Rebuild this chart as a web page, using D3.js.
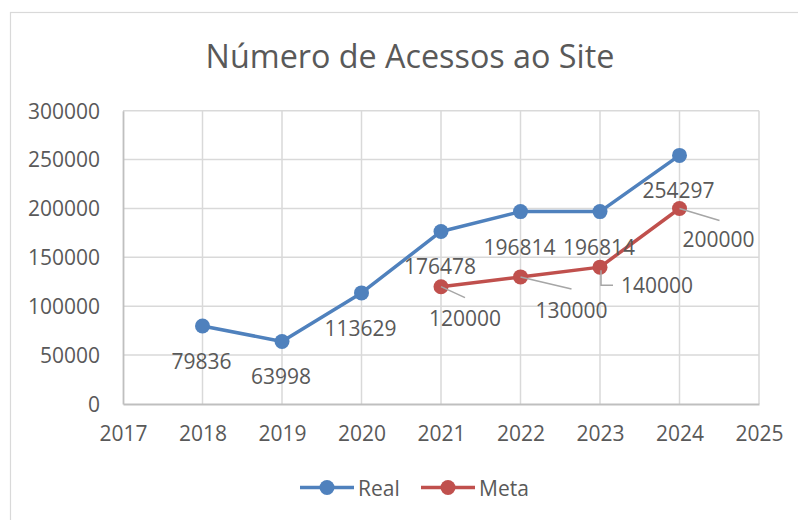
<!DOCTYPE html>
<html>
<head>
<meta charset="utf-8">
<script src="https://cdn.jsdelivr.net/npm/d3@7"></script>
<style>
  body { margin: 0; background: #fff; }
  svg text { font-family: "Open Sans", sans-serif; fill: #595959; }
</style>
</head>
<body>
<svg id="chart"></svg>
<script>
const w = 798;
const h = 520;

// data
const years = [2018, 2019, 2020, 2021, 2022, 2023, 2024];
const realValues = [79836, 63998, 113629, 176478, 196814, 196814, 254297];
const metaYears = [2021, 2022, 2023, 2024];
const metaValues = [120000, 130000, 140000, 200000];
const xTicks = [2017, 2018, 2019, 2020, 2021, 2022, 2023, 2024, 2025];
const yTicks = [0, 50000, 100000, 150000, 200000, 250000, 300000];

const blue = "#4f81bd";
const red = "#c0504d";
const fs = "21px";

const svg = d3.select("#chart").attr("width", w).attr("height", h);

// chart frame (runs off the right/bottom of the picture)
svg.append("rect")
  .attr("x", 10.5).attr("y", 12.5)
  .attr("width", 820).attr("height", 540)
  .attr("fill", "none").attr("stroke", "#d9d9d9").attr("stroke-width", 1.2);

const x = d3.scaleLinear().domain([2017, 2025]).range([123, 759]);
const y = d3.scaleLinear().domain([0, 300000]).range([404, 110.7]);

// title
svg.append("text")
  .attr("x", 410).attr("y", 55)
  .attr("text-anchor", "middle")
  .attr("dominant-baseline", "central")
  .style("font-size", "32.3px")
  .text("Número de Acessos ao Site");

// grid
svg.append("g").selectAll("line")
  .data(yTicks.slice(1))
  .join("line")
  .attr("x1", x(2017)).attr("x2", x(2025))
  .attr("y1", d => y(d)).attr("y2", d => y(d))
  .attr("stroke", "#d9d9d9").attr("stroke-width", 1.5);

svg.append("g").selectAll("line")
  .data(xTicks.slice(1))
  .join("line")
  .attr("x1", d => x(d)).attr("x2", d => x(d))
  .attr("y1", y(0)).attr("y2", y(300000))
  .attr("stroke", "#d9d9d9").attr("stroke-width", 1.5);

// axes
const yAxis = d3.axisLeft(y).tickValues(yTicks).tickSize(0).tickPadding(23)
  .tickFormat(d3.format("d"));
svg.append("g")
  .attr("transform", "translate(" + x(2017) + ",0)")
  .call(yAxis)
  .call(g => g.select(".domain").attr("stroke", "#bfbfbf").attr("stroke-width", 1.8))
  .call(g => g.selectAll("text").style("font-size", fs).attr("fill", "#595959")
    .attr("font-family", null).attr("dy", "0.35em"));

const xAxis = d3.axisBottom(x).tickValues(xTicks).tickSize(0).tickPadding(22)
  .tickFormat(d3.format("d"));
svg.append("g")
  .attr("transform", "translate(0," + y(0) + ")")
  .call(xAxis)
  .call(g => g.select(".domain").attr("stroke", "#bfbfbf").attr("stroke-width", 1.8))
  .call(g => g.selectAll("text").style("font-size", fs).attr("fill", "#595959")
    .attr("font-family", null));

const line = d3.line().x(d => x(d[0])).y(d => y(d[1]));
const realData = years.map((yr, i) => [yr, realValues[i]]);
const metaData = metaYears.map((yr, i) => [yr, metaValues[i]]);

// Real series
svg.append("path").datum(realData)
  .attr("d", line).attr("fill", "none")
  .attr("stroke", blue).attr("stroke-width", 3.5).attr("stroke-linejoin", "round");
svg.append("g").selectAll("circle")
  .data(realData).join("circle")
  .attr("cx", d => x(d[0])).attr("cy", d => y(d[1])).attr("r", 7.5)
  .attr("fill", blue);

// Meta series
svg.append("path").datum(metaData)
  .attr("d", line).attr("fill", "none")
  .attr("stroke", red).attr("stroke-width", 3.5).attr("stroke-linejoin", "round");
svg.append("g").selectAll("circle")
  .data(metaData).join("circle")
  .attr("cx", d => x(d[0])).attr("cy", d => y(d[1])).attr("r", 7.5)
  .attr("fill", red);

// Real labels, below points
svg.append("g").selectAll("text")
  .data(realData).join("text")
  .attr("x", d => x(d[0]) - 1)
  .attr("y", d => y(d[1]) + 35)
  .attr("text-anchor", "middle")
  .attr("dominant-baseline", "central")
  .style("font-size", fs)
  .text(d => d[1]);

// Meta labels, moved by hand in the original, with leader lines
const metaLabelOffset = [[24, 31], [51, 33], [57, 18], [39, 31]];
const leaders = [
  [[0, 0], [24, 11]],
  [[0, 0], [51, 12]],
  [[1, 3], [1, 18], [13, 18]],
  [[0, 0], [40, 12]]
];
svg.append("g").selectAll("path")
  .data(metaData).join("path")
  .attr("d", (d, i) => d3.line()(leaders[i].map(p => [x(d[0]) + p[0], y(d[1]) + p[1]])))
  .attr("fill", "none").attr("stroke", "#a6a6a6").attr("stroke-width", 1.5);
svg.append("g").selectAll("text")
  .data(metaData).join("text")
  .attr("x", (d, i) => x(d[0]) + metaLabelOffset[i][0])
  .attr("y", (d, i) => y(d[1]) + metaLabelOffset[i][1])
  .attr("text-anchor", "middle")
  .attr("dominant-baseline", "central")
  .style("font-size", fs)
  .text(d => d[1]);

// legend
const legend = [["Real", blue, 300], ["Meta", red, 421]];
const lg = svg.append("g").selectAll("g").data(legend).join("g")
  .attr("transform", d => "translate(" + d[2] + ",487.5)");
lg.append("line").attr("x1", 0).attr("x2", 54)
  .attr("stroke", d => d[1]).attr("stroke-width", 3.5);
lg.append("circle").attr("cx", 27).attr("r", 7.5).attr("fill", d => d[1]);
lg.append("text").attr("x", 58).attr("dominant-baseline", "central")
  .style("font-size", fs).text(d => d[0]);
</script>
</body>
</html>
